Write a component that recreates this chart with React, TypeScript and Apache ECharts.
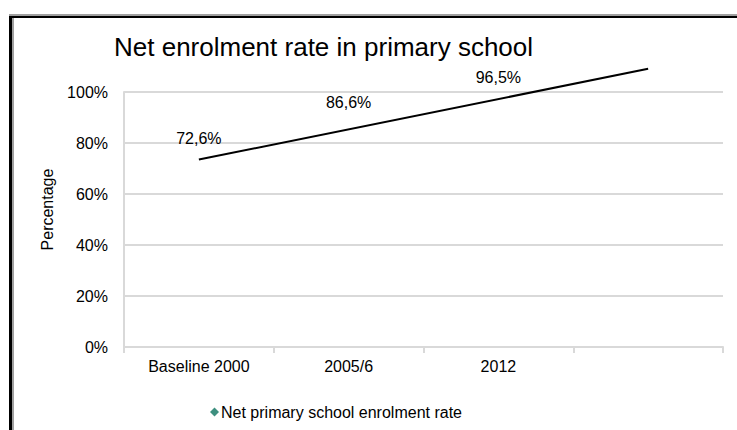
import React, { useEffect, useRef } from "react";
import * as echarts from "echarts";

const categories = ["Baseline 2000", "2005/6", "2012", ""];
const enrolmentRate = [72.6, 86.6, 96.5, null];
const trendLine = [73.5, null, null, 109.1];
const yTicks = { min: 0, max: 100, interval: 20 };
const seriesName = "Net primary school enrolment rate";
const chartTitle = "Net enrolment rate in primary school";
const yAxisName = "Percentage";

const FONT = "'Liberation Sans', Arial, sans-serif";

export default function App() {
  const ref = useRef<HTMLDivElement>(null);
  useEffect(() => {
    if (!ref.current) return;
    const chart = echarts.init(ref.current, null, { renderer: "svg" });
    chart.setOption({
      animation: false,
      backgroundColor: "#ffffff",
      textStyle: { fontFamily: FONT, color: "#000" },
      title: {
        text: chartTitle,
        left: 114,
        top: 34,
        padding: 0,
        textStyle: { fontFamily: FONT, fontSize: 26, fontWeight: "normal", color: "#000" },
      },
      graphic: [
        { type: "rect", shape: { x: 9, y: 14, width: 728, height: 2 }, style: { fill: "#a0a0a0" }, silent: true },
        { type: "rect", shape: { x: 12, y: 16, width: 725, height: 2 }, style: { fill: "#000" }, silent: true },
        { type: "rect", shape: { x: 9, y: 16, width: 3, height: 414 }, style: { fill: "#000" }, silent: true },
        { type: "rect", shape: { x: 12, y: 18, width: 2, height: 412 }, style: { fill: "#a0a0a0" }, silent: true },
      ],
      legend: {
        data: [{ name: seriesName, icon: "diamond", itemStyle: { color: "#3d8f7f", opacity: 1 } }],
        left: 205,
        top: 399,
        itemWidth: 9,
        itemHeight: 9,
        itemGap: 4,
        textStyle: { fontFamily: FONT, fontSize: 16, color: "#000", padding: [0, 0, 0, -3] },
      },
      grid: {
        left: 124,
        right: 14,
        top: 92,
        bottom: 83,
        containLabel: false,
        outerBoundsMode: "none",
      },
      xAxis: {
        type: "category",
        data: categories,
        boundaryGap: true,
        axisLine: { show: true, lineStyle: { color: "#d9d9d9", width: 2 } },
        axisTick: { show: true, length: 6, lineStyle: { color: "#d9d9d9", width: 2 } },
        axisLabel: { fontFamily: FONT, fontSize: 16, color: "#000", margin: 11 },
        splitLine: { show: false },
      },
      yAxis: {
        type: "value",
        min: yTicks.min,
        max: yTicks.max,
        interval: yTicks.interval,
        name: yAxisName,
        nameLocation: "middle",
        nameRotate: 90,
        nameGap: 69,
        nameTextStyle: { fontFamily: FONT, fontSize: 16, color: "#000", padding: [0, 0, 0, 20] },
        axisLine: { show: true, lineStyle: { color: "#d9d9d9", width: 2 } },
        axisTick: { show: false },
        axisLabel: { fontFamily: FONT, fontSize: 16, color: "#000", margin: 16, formatter: "{value}%" },
        splitLine: { show: true, lineStyle: { color: "#d9d9d9", width: 2 } },
      },
      series: [
        {
          name: seriesName,
          type: "line",
          data: enrolmentRate,
          symbol: "diamond",
          symbolSize: 1,
          showSymbol: true,
          itemStyle: { color: "rgba(0,0,0,0)" },
          lineStyle: { width: 0, color: "rgba(0,0,0,0)" },
          label: {
            show: true,
            position: "top",
            distance: 15,
            fontFamily: FONT,
            fontSize: 16,
            color: "#000",
            formatter: (p: any) => p.value.toFixed(1).replace(".", ",") + "%",
          },
          silent: true,
        },
        {
          name: "trend",
          type: "line",
          data: trendLine,
          connectNulls: true,
          symbol: "none",
          clip: false,
          lineStyle: { color: "#000", width: 2 },
          silent: true,
        },
      ],
    });
    return () => chart.dispose();
  }, []);
  return (
    <div
      ref={ref}
      style={{ position: "fixed", left: 0, top: 0, width: 737, height: 430 }}
    />
  );
}
